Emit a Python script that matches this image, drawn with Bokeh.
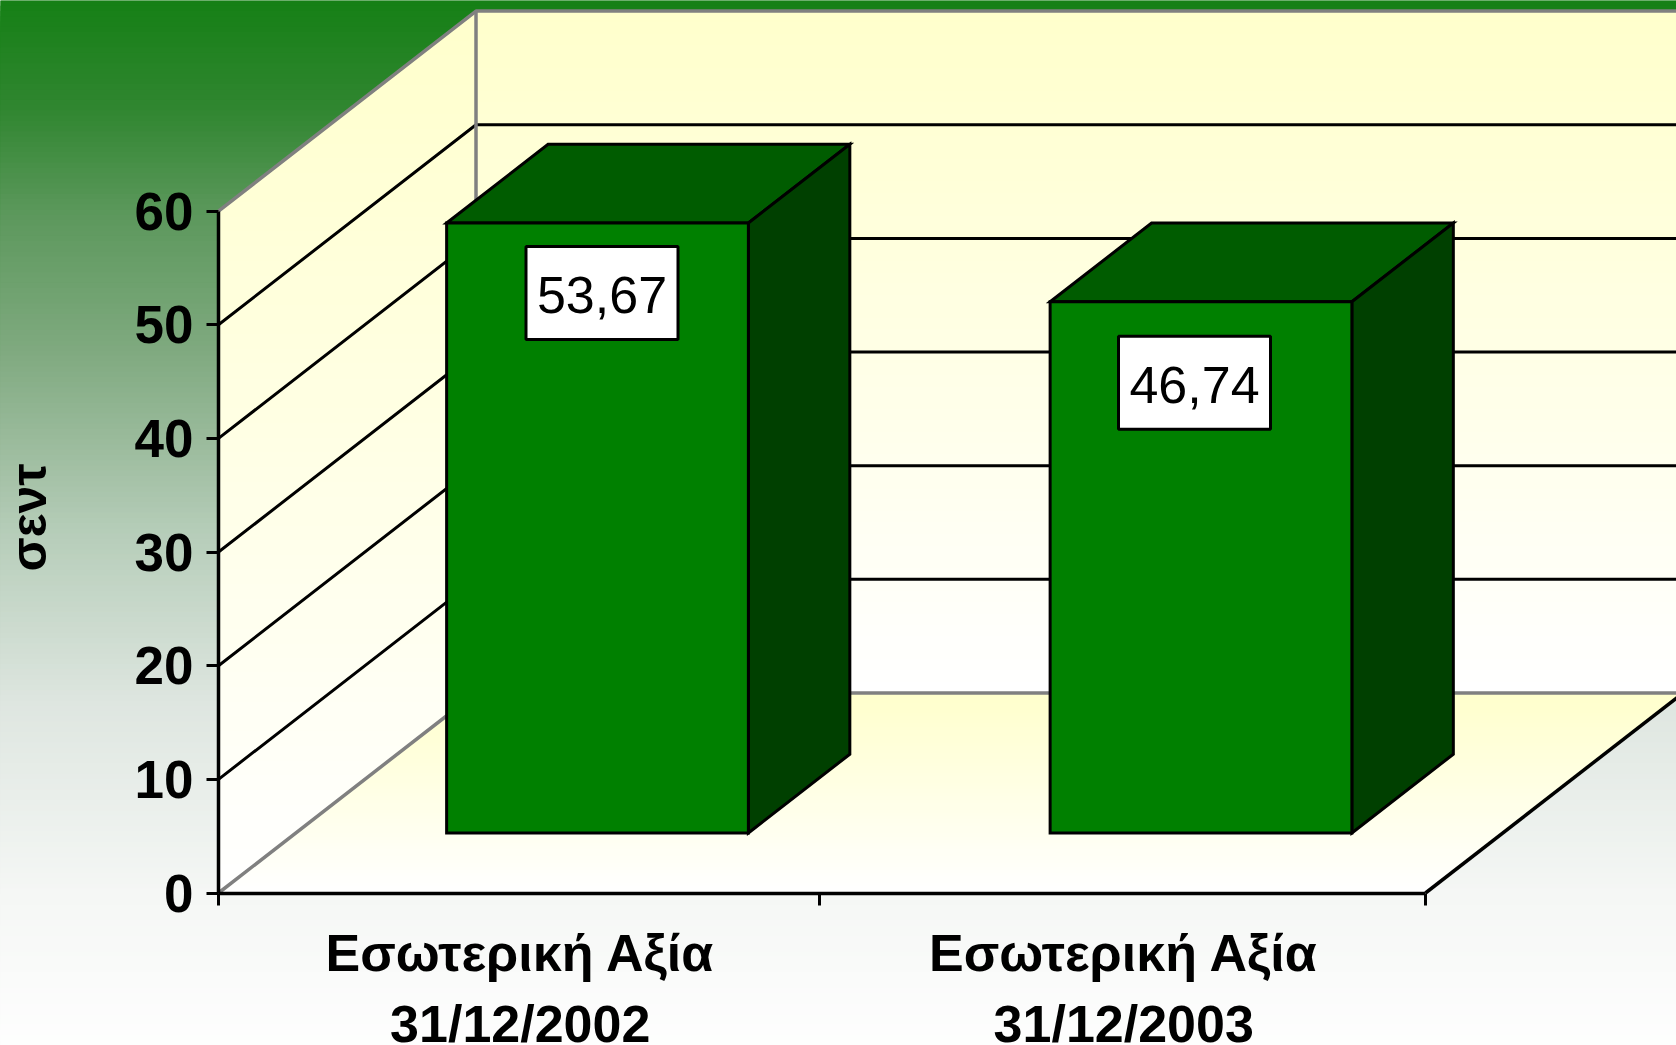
import math
from bokeh.embed import file_html
from bokeh.resources import INLINE
from bokeh.plotting import figure
from bokeh.models import Range1d, LinearAxis, FixedTicker
from bokeh.core.properties import value as V

# ---- data ----
categories = ["Εσωτερική Αξία\n31/12/2002", "Εσωτερική Αξία\n31/12/2003"]
values = [53.67, 46.74]
value_labels = ["53,67", "46,74"]
value_ticks = [0, 10, 20, 30, 40, 50, 60]
axis_title = "σεντ"

# ---- layout (page pixels) ----
W, H = 1676, 1045
PAGE_LEFT, PAGE_TOP = 0, 0
AX_X0, AX_X2 = 218.0, 1425.0
AX_Y0, AX_Y60 = 892.5, 210.6
DEPTH_PX_X, DEPTH_PX_Y = 257.5, 200.0
UX = (AX_X2 - AX_X0) / 2
UY = (AX_Y0 - AX_Y60) / 60
DX = DEPTH_PX_X / UX
DY = DEPTH_PX_Y / UY
x_start = (PAGE_LEFT - AX_X0) / UX
x_end = (PAGE_LEFT + W - AX_X0) / UX
y_top = (AX_Y0 - PAGE_TOP) / UY
y_bottom = (AX_Y0 - (PAGE_TOP + H)) / UY

p = figure(width=W, height=H, output_backend="svg", toolbar_location=None,
           x_range=Range1d(x_start, x_end), y_range=Range1d(y_bottom, y_top),
           x_axis_type=None, y_axis_type=None, min_border=0, outline_line_color=None,
           background_fill_color="#168016", border_fill_color="#168016")
p.grid.visible = False


def px(x, z=0.0):
    return x + z * DX


def py(v, z=0.0):
    return v + z * DY


def lerp_stops(stops, t):
    for (a, ca), (b, cb) in zip(stops, stops[1:]):
        if t <= b:
            f = (t - a) / (b - a)
            return tuple(int(round(ca[i] + (cb[i] - ca[i]) * f)) for i in range(3))
    return stops[-1][1]


def hexc(c):
    return "#%02x%02x%02x" % c


# background gradient, painted from the top down, each strip reaching to the bottom
bg_stops = [(y_top, (22, 128, 22)),
            ((AX_Y0 - 105) / UY, (48, 134, 48)),
            ((AX_Y0 - 211) / UY, (92, 152, 92)),
            ((AX_Y0 - 350) / UY, (128, 170, 128)),
            ((AX_Y0 - 530) / UY, (182, 205, 185)),
            ((AX_Y0 - 700) / UY, (222, 230, 224)),
            ((AX_Y0 - 892) / UY, (245, 247, 245)),
            (y_bottom, (254, 254, 254))]
bg_stops = sorted(bg_stops, key=lambda s: s[0])
N_BG = 200
tops = [y_top + (y_bottom - y_top) * i / N_BG for i in range(N_BG)]
p.quad(left=x_start - 1, right=x_end + 1, top=tops, bottom=y_bottom - 10,
       fill_color=[hexc(lerp_stops(bg_stops, t)) for t in tops], line_color=None)


def clip(poly, ylim):
    out = []
    for i in range(len(poly)):
        a, b = poly[i], poly[(i + 1) % len(poly)]
        ina = a[1] <= ylim
        inb = b[1] <= ylim
        if ina:
            out.append(a)
        if ina != inb:
            f = (ylim - a[1]) / (b[1] - a[1])
            out.append((a[0] + (b[0] - a[0]) * f, ylim))
    return out


def gradient_poly(poly, y_hi, y_lo, n=60):
    xs, ys, cs = [], [], []
    for i in range(n):
        t = y_hi + (y_lo - y_hi) * i / n
        part = clip(poly, t)
        if len(part) >= 3:
            xs.append([q[0] for q in part])
            ys.append([q[1] for q in part])
            b = int(round(204 + 51 * i / (n - 1)))
            cs.append("#ffff%02x" % b)
    p.patches(xs, ys, fill_color=cs, line_color=None)


top_v = 60
xr = px(2, 1)
gradient_poly([(px(0, 1), py(top_v, 1)), (xr, py(top_v, 1)), (xr, py(0, 1)), (px(0, 1), py(0, 1))],
              py(top_v, 1), py(0, 1))
gradient_poly([(px(0), py(0)), (px(2), py(0)), (px(2, 1), py(0, 1)), (px(0, 1), py(0, 1))],
              py(0, 1), py(0))
gradient_poly([(px(0), py(0)), (px(0), py(top_v)), (px(0, 1), py(top_v, 1)), (px(0, 1), py(0, 1))],
              py(top_v, 1), py(0))

# gridlines on the walls
for t in value_ticks[1:-1]:
    p.line([px(0), px(0, 1), xr], [py(t), py(t, 1), py(t, 1)], line_color="black", line_width=3)
# wall borders
GRAY = "#808080"
for t in (value_ticks[0], value_ticks[-1]):
    p.line([px(0), px(0, 1), xr], [py(t), py(t, 1), py(t, 1)], line_color=GRAY, line_width=3.5)
p.line([px(0, 1), px(0, 1)], [py(0, 1), py(top_v, 1)], line_color=GRAY, line_width=3.5)
p.line([px(2), px(2, 1)], [py(0), py(0, 1)], line_color="black", line_width=3.5)

# 3D bars
BAR_W, Z0, Z1 = 0.5, 0.3, 0.694
for i, v in enumerate(values):
    l, r = i + 0.5 - BAR_W / 2, i + 0.5 + BAR_W / 2
    p.patch([px(l, Z0), px(l, Z1), px(r, Z1), px(r, Z0)],
            [py(v, Z0), py(v, Z1), py(v, Z1), py(v, Z0)],
            fill_color="#005c00", line_color="black", line_width=3, line_join="miter")
    p.patch([px(r, Z0), px(r, Z1), px(r, Z1), px(r, Z0)],
            [py(0, Z0), py(0, Z1), py(v, Z1), py(v, Z0)],
            fill_color="#004000", line_color="black", line_width=3, line_join="miter")
    p.patch([px(l, Z0), px(r, Z0), px(r, Z0), px(l, Z0)],
            [py(0, Z0), py(0, Z0), py(v, Z0), py(v, Z0)],
            fill_color="#008000", line_color="black", line_width=3, line_join="miter")

# value labels, placed relative to each bar's front face
label_off_x = [4.5 / UX, -6.5 / UX]
label_off_v = [-70.0 / UY, -81.0 / UY]
lx = [i + 0.5 + DX * Z0 + label_off_x[i] for i in range(len(values))]
ly = [py(v, Z0) + label_off_v[i] for i, v in enumerate(values)]
p.rect(lx, ly, width=152 / UX, height=93 / UY, fill_color="white", line_color="black", line_width=3)
p.text(lx, ly, text=value_labels, y_offset=2, text_font=V("Liberation Sans"), text_font_size="52px",
       text_align="center", text_baseline="middle", text_color="black")

# axis title
p.text([(28 - AX_X0) / UX], [(AX_Y0 - 517) / UY], text=[axis_title], angle=math.pi / 2,
       text_font=V("Liberation Sans"), text_font_style="bold", text_font_size="50px",
       text_align="center", text_baseline="middle", text_color="black")

# axes
yax = LinearAxis(fixed_location=0, bounds=(0, 60), ticker=FixedTicker(ticks=value_ticks),
                 axis_line_color="black", axis_line_width=3.5,
                 major_tick_line_color="black", major_tick_line_width=3,
                 major_tick_in=0, major_tick_out=12, minor_tick_line_color=None,
                 major_label_text_font="Liberation Sans", major_label_text_font_style="bold",
                 major_label_text_font_size="53px", major_label_text_color="black",
                 major_label_standoff=13)
p.add_layout(yax, "left")

xax = LinearAxis(fixed_location=0, bounds=(0, 2), ticker=FixedTicker(ticks=[0, 0.9965, 2]),
                 axis_line_color="black", axis_line_width=3.5,
                 major_tick_line_color="black", major_tick_line_width=3,
                 major_tick_in=0, major_tick_out=12, minor_tick_line_color=None,
                 major_label_text_font_size="0px", major_label_text_color=None)
p.add_layout(xax, "below")

xlab = LinearAxis(fixed_location=0, ticker=FixedTicker(ticks=[0.5, 1.5]),
                  major_label_overrides={0.5: categories[0], 1.5: categories[1]},
                  axis_line_color=None, major_tick_line_color=None, minor_tick_line_color=None,
                  major_label_text_font="Liberation Sans", major_label_text_font_style="bold",
                  major_label_text_font_size="52px", major_label_text_color="black",
                  major_label_text_line_height=1.22, major_label_standoff=25)
p.add_layout(xlab, "below")

open("out.html", "w").write(file_html(p, INLINE))
